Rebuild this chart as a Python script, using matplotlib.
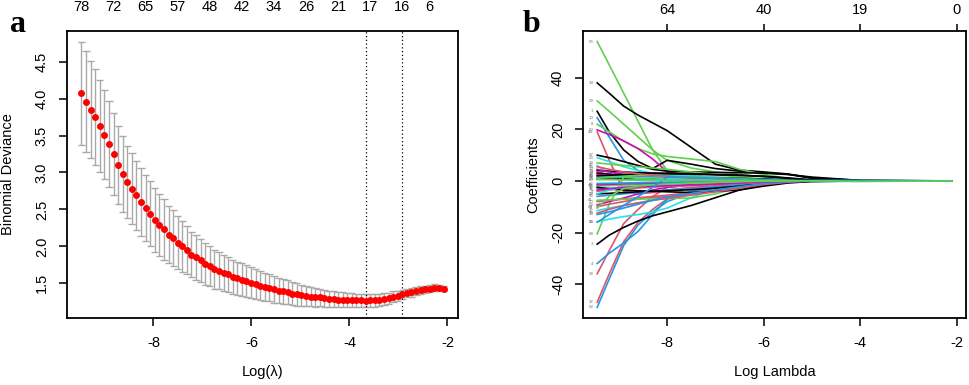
import numpy as np
import matplotlib
matplotlib.use("Agg")
import matplotlib.pyplot as plt

plt.rcParams['font.family'] = ['Liberation Sans', 'DejaVu Sans']
plt.rcParams['axes.unicode_minus'] = False

# ---------------- data: panel a (cross-validation curve) ----------------
log_lambda_first, log_lambda_last, n_lambda = -9.47, -2.08, 80
cv_mean = [4.07, 3.96, 3.85, 3.75, 3.63, 3.51, 3.39, 3.25, 3.10, 2.98,
           2.87, 2.78, 2.69, 2.60, 2.52, 2.44, 2.36, 2.29, 2.23, 2.16,
           2.11, 2.05, 2.00, 1.95, 1.89, 1.85, 1.81, 1.76, 1.73, 1.69,
           1.67, 1.64, 1.62, 1.59, 1.57, 1.55, 1.53, 1.51, 1.49, 1.47,
           1.45, 1.44, 1.42, 1.40, 1.39, 1.38, 1.36, 1.35, 1.34, 1.33,
           1.32, 1.31, 1.31, 1.30, 1.29, 1.29, 1.28, 1.28, 1.28, 1.27,
           1.27, 1.27, 1.265, 1.27, 1.27, 1.28, 1.29, 1.30, 1.32, 1.33,
           1.35, 1.37, 1.38, 1.40, 1.41, 1.42, 1.43, 1.44, 1.44, 1.43]
cv_se = [.70, .68, .66, .65, .62, .60, .58, .55, .53, .51,
         .49, .48, .47, .46, .45, .44, .43, .42, .41, .39,
         .38, .36, .34, .33, .31, .30, .29, .28, .27, .26,
         .25, .245, .24, .23, .225, .22, .215, .21, .20, .195,
         .19, .185, .18, .17, .165, .16, .155, .15, .14, .135,
         .13, .125, .12, .115, .11, .105, .10, .10, .095, .095,
         .09, .09, .09, .085, .085, .08, .08, .075, .07, .07,
         .065, .06, .06, .055, .05, .05, .045, .045, .04, .04]
nz_label_idx = [0, 7, 14, 21, 28, 35, 42, 49, 56, 63, 70, 76]
nz_labels = ['78', '72', '65', '57', '48', '42', '34', '26', '21', '17', '16', '6']
idx_lambda_min, idx_lambda_1se = 62, 70
cv_yticks = [1.5, 2.0, 2.5, 3.0, 3.5, 4.0, 4.5]
x_ticks = [-8, -6, -4, -2]

# ---------------- data: panel b (coefficient paths) ----------------
coef_knots = [-9.45, -9.2, -8.9, -8.6, -8.3, -8.0, -7.5, -7.0, -6.5, -6.0, -5.5, -5.0, -4.0, -2.1]
coef_paths = [
    [54, 45, 34, 23, 12, 4, 1.5, 0.8, 0.4, 0.2, 0, 0, 0, 0],
    [38, 34, 29, 25.5, 22.5, 19.5, 13, 6.5, 4.2, 3.5, 2.7, 1.2, 0.2, 0],
    [31, 27, 22, 17, 12, 8, 5, 3.5, 2.5, 1.5, 0.8, 0.2, 0, 0],
    [27, 19, 12, 7.5, 4.8, 8, 6.5, 4.8, 3.8, 3.2, 2.6, 1.0, 0.1, 0],
    [24.5, 17, 8, 4, 2.5, 2, 1.5, 1, 0.6, 0.3, 0.1, 0, 0, 0],
    [22, 19, 15.5, 12.5, 10.5, 9.5, 8.5, 7.5, 4.5, 2.5, 1, 0.3, 0, 0],
    [19.8, 18, 15.5, 12.5, 8.5, 3.5, 1.8, 1.4, 1.0, 0.6, 0.3, 0.1, 0, 0],
    [19, 8, -4, -5, -4.5, -3.5, -2.5, -1.8, -1.2, -0.6, -0.2, 0, 0, 0],
    [10, 9, 7.5, 6, 4.5, 3.8, 3.5, 3.3, 3.2, 3.0, 2.5, 1.5, 0.2, 0],
    [9, 7.5, 5.5, 4, 3, 2.5, 2, 1.5, 1, 0.5, 0.2, 0, 0, 0],
    [7, 6.5, 6, 5.5, 5, 4.5, 3.5, 2.5, 1.5, 0.8, 0.3, 0, 0, 0],
    [6, 3, 0.5, 0.2, 0.1, 0, 0, 0, 0, 0, 0, 0, 0, 0],
    [4, 3.8, 3.5, 3.2, 3, 2.8, 2.6, 2.4, 2.2, 1.8, 1.2, 0.4, 0, 0],
    [3.5, 2.5, 1.8, 1.4, 1.2, 1.0, 0.8, 0.6, 0.4, 0.2, 0, 0, 0, 0],
    [3, 2.6, 2.2, 1.9, 1.7, 1.5, 1.3, 1.2, 1.0, 0.7, 0.3, 0.1, 0, 0],
    [2.5, 2.2, 2, 1.9, 1.7, 1.5, 1.2, 0.9, 0.6, 0.3, 0.1, 0, 0, 0],
    [1.5, 1.4, 1.3, 1.2, 1.1, 1.0, 0.9, 0.8, 0.7, 0.6, 0.5, 0.4, 0.2, 0.05],
    [0.8, 0.7, 0.7, 0.8, 0.9, 1.0, 1.0, 0.9, 0.8, 0.6, 0.3, 0.1, 0, 0],
    [4.5, 3.5, 2.5, 2, 1.6, 1.3, 1.0, 0.7, 0.4, 0.2, 0, 0, 0, 0],
    [2, 1.8, 1.6, 1.4, 1.2, 1.0, 0.8, 0.6, 0.4, 0.2, 0.1, 0, 0, 0],
    [1, 1.5, 2, 2.2, 2.0, 1.8, 1.5, 1.2, 0.9, 0.5, 0.2, 0.05, 0, 0],
    [2, 2.2, 2.5, 2.8, 3.0, 3.0, 2.8, 2.5, 2.2, 1.8, 1.0, 0.3, 0, 0],
    [5.5, 4.5, 3.5, 2.8, 2.2, 1.8, 1.2, 0.8, 0.4, 0.2, 0, 0, 0, 0],
    [-49, -38, -25, -17, -12, -8, -4.5, -3, -2, -1.2, -0.5, -0.1, 0, 0],
    [-47, -36, -23.5, -16, -11, -7, -4, -2.5, -1.5, -0.8, -0.3, 0, 0, 0],
    [-36, -27, -16.5, -11, -6, -2.5, -1.5, -1, -0.6, -0.3, -0.1, 0, 0, 0],
    [-32, -28, -24, -19.5, -13, -7, -4, -2.5, -1.5, -0.8, -0.3, 0, 0, 0],
    [-24.5, -21, -18, -15.5, -13.5, -12, -9.5, -6.5, -3.5, -1.5, -0.3, 0, 0, 0],
    [-20.5, -9, 1.5, 1.0, 0.6, 0.3, 0.1, 0, 0, 0, 0, 0, 0, 0],
    [-15.8, -14.8, -13.8, -13, -12, -10.5, -6.5, -3, -0.8, -0.2, 0, 0, 0, 0],
    [-11.5, -10.5, -9.5, -8.5, -7.5, -6.5, -5, -3.5, -2, -0.8, -0.2, 0, 0, 0],
    [-10, -9, -8, -7, -6.5, -6, -5, -4, -2.5, -1.2, -0.4, 0, 0, 0],
    [-9.3, -8, -6.6, -5, -3.5, -2.5, -1.5, -1, -0.5, -0.2, 0, 0, 0, 0],
    [-8, -7.5, -7, -6.5, -6, -5.5, -4.5, -3.5, -2.2, -1, -0.3, 0, 0, 0],
    [-7.5, -7.3, -7.1, -7, -6.9, -6.8, -6.6, -5, -2.5, -1, -0.3, 0, 0, 0],
    [-6, -5.5, -5, -4.5, -4, -3.5, -3, -2.3, -1.5, -0.7, -0.2, 0, 0, 0],
    [-5, -4.8, -4.5, -4.2, -4, -3.8, -3.4, -2.8, -2.0, -1.0, -0.3, 0, 0, 0],
    [-3, -2.8, -2.6, -2.4, -2.2, -2, -1.7, -1.3, -0.9, -0.5, -0.2, 0, 0, 0],
    [-4, -3.5, -3, -2.7, -2.4, -2.1, -1.8, -1.4, -1, -0.5, -0.1, 0, 0, 0],
    [-2, -1.8, -1.6, -1.5, -1.4, -1.3, -1.1, -0.9, -0.6, -0.3, -0.1, 0, 0, 0],
    [-1.5, -1.3, -1.1, -1.0, -0.9, -0.8, -0.6, -0.4, -0.2, -0.1, 0, 0, 0, 0],
    [-1, -0.9, -0.8, -0.7, -0.6, -0.55, -0.5, -0.45, -0.4, -0.35, -0.3, -0.25, -0.1, 0],
    [-2.5, -3, -3.5, -3.8, -4.0, -4.2, -4.5, -4.0, -3.5, -2.0, -0.8, -0.2, 0, 0],
    [-12.5, -11, -9.5, -8.5, -7.5, -6.8, -5.5, -4.2, -2.8, -1.4, -0.5, 0, 0, 0],
    [-13, -12, -10.5, -9, -7.5, -6.2, -4.8, -3.5, -2.2, -1.0, -0.3, 0, 0, 0],
    [-5, -3.5, -2.5, -2, -1.7, -1.4, -1.0, -0.7, -0.4, -0.2, 0, 0, 0, 0],
    [-3.5, -3, -2.5, -2.2, -2, -1.8, -1.5, -1.2, -0.8, -0.4, -0.1, 0, 0, 0],
    [-10.5, -6, -3, -2, -1.5, -1.2, -0.8, -0.5, -0.3, -0.1, 0, 0, 0, 0],
    [-16, -13, -9.5, -6, -2.5, 1.5, 1.3, 1.0, 0.7, 0.4, 0.2, 0.1, 0.05, 0],
    [0.5, 0.5, 0.4, 0.4, 0.3, 0.3, 0.3, 0.2, 0.2, 0.15, 0.1, 0.1, -0.2, 0],
]
coef_var_ids = [56, 14, 29, 1, 10, 8, 60, 44, 67, 23, 33, 47, 73, 2, 19, 36, 52, 25,
                12, 71, 5, 40, 58, 62, 32, 38, 4, 3, 68, 15, 27, 49, 54, 20, 41, 65,
                17, 77, 9, 30, 46, 22, 51, 70, 34, 59, 75, 11, 66, 80]
df_tick_pos = [-8, -6, -4, -2]
df_labels = ['64', '40', '19', '0']
coef_yticks = [-40, -20, 0, 20, 40]

# ---------------- styles ----------------
R_PAL = {'k': '#000000', 'r': '#DF536B', 'g': '#61D04F', 'b': '#2297E6',
         'c': '#28E2E5', 'm': '#CD0BBC'}
path_colors = ['g', 'k', 'g', 'k', 'b', 'g', 'm', 'r', 'k', 'c', 'g', 'c', 'k', 'r', 'k',
               'm', 'b', 'k', 'm', 'c', 'g', 'k', 'r', 'b', 'r', 'r', 'b', 'k', 'g', 'c',
               'c', 'r', 'm', 'r', 'g', 'b', 'k', 'c', 'r', 'g', 'm', 'b', 'k', 'r', 'b',
               'c', 'm', 'g', 'b', 'g']

W, H = 969, 385
fig = plt.figure(figsize=(W / 100, H / 100), dpi=100)
TICK_FS = 10.5
LAB_FS = 10.5


def style_axes(ax):
    for sp in ax.spines.values():
        sp.set_linewidth(1.3)
    ax.tick_params(axis='both', direction='out', length=6, width=1.1,
                   labelsize=TICK_FS, pad=7)
    ax.tick_params(axis='y', labelrotation=90)
    for lab in ax.get_yticklabels():
        lab.set_va('center')


# ---------------- panel a ----------------
ax1 = fig.add_axes([67 / W, 67 / H, 391 / W, 287 / H])
x = np.linspace(log_lambda_first, log_lambda_last, n_lambda)
mean = np.array(cv_mean)
se = np.array(cv_se)
upper, lower = mean + se, mean - se
barw = 0.01 * (x.max() - x.min())
grey = '#A9A9A9'
ax1.vlines(x, lower, upper, color=grey, lw=1.0, zorder=1)
ax1.hlines(upper, x - barw, x + barw, color=grey, lw=1.0, zorder=1)
ax1.hlines(lower, x - barw, x + barw, color=grey, lw=1.0, zorder=1)
ax1.plot(x, mean, 'o', color='red', ms=5.0, mec='none', zorder=3)
ax1.axvline(x[idx_lambda_min], color='black', lw=0.9, ls=(0, (1, 2)), zorder=2)
ax1.axvline(x[idx_lambda_1se], color='black', lw=0.9, ls=(0, (1, 2)), zorder=2)
xr = x.max() - x.min()
ax1.set_xlim(x.min() - 0.04 * xr, x.max() + 0.04 * xr)
yr = upper.max() - lower.min()
ax1.set_ylim(lower.min() - 0.04 * yr, upper.max() + 0.04 * yr)
ax1.set_xticks(x_ticks)
ax1.set_xticklabels([str(t) for t in x_ticks])
ax1.set_yticks(cv_yticks)
ax1.set_yticklabels([f'{t:.1f}' for t in cv_yticks])
style_axes(ax1)
ax1.set_xlabel('Log(\u03bb)', fontsize=LAB_FS, labelpad=11)
ax1.set_ylabel('Binomial Deviance', fontsize=LAB_FS, labelpad=14)
top1 = ax1.secondary_xaxis('top')
top1.set_xticks([x[i] for i in nz_label_idx])
top1.set_xticklabels(nz_labels)
top1.tick_params(length=0, labelsize=TICK_FS, pad=12)
top1.spines['top'].set_visible(False)

# ---------------- panel b ----------------
ax2 = fig.add_axes([583 / W, 67 / H, 383 / W, 287 / H])
allv = []
for vals, c, vid in zip(coef_paths, path_colors, coef_var_ids):
    ax2.plot(coef_knots, vals, color=R_PAL[c], lw=1.2, solid_joinstyle='round')
    ax2.text(coef_knots[0] - 0.08, vals[0], str(vid), fontsize=3.2, color='#777777',
             ha='right', va='center')
    allv.extend(vals)
kr = coef_knots[-1] - coef_knots[0]
ax2.set_xlim(coef_knots[0] - 0.04 * kr, coef_knots[-1] + 0.04 * kr)
vr = max(allv) - min(allv)
ax2.set_ylim(min(allv) - 0.04 * vr, max(allv) + 0.04 * vr)
ax2.set_xticks(x_ticks)
ax2.set_xticklabels([str(t) for t in x_ticks])
ax2.set_yticks(coef_yticks)
ax2.set_yticklabels([str(t) for t in coef_yticks])
style_axes(ax2)
ax2.set_xlabel('Log Lambda', fontsize=LAB_FS, labelpad=11)
ax2.set_ylabel('Coefficients', fontsize=LAB_FS, labelpad=8)
top2 = ax2.secondary_xaxis('top')
top2.set_xticks(df_tick_pos)
top2.set_xticklabels(df_labels)
top2.tick_params(direction='out', length=5, width=1.1, labelsize=TICK_FS, pad=5)
top2.spines['top'].set_visible(False)

# panel letters
fig.text(10 / W, 1 - 32 / H, 'a', fontsize=23, fontweight='bold',
         family='Liberation Serif', va='baseline', ha='left')
fig.text(523 / W, 1 - 32 / H, 'b', fontsize=23, fontweight='bold',
         family='Liberation Serif', va='baseline', ha='left')

fig.savefig('out.png', dpi=100)
